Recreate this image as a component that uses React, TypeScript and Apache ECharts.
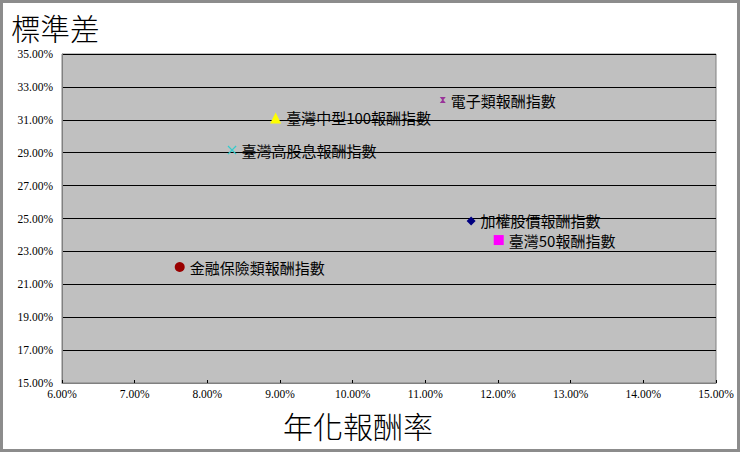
import React, { useEffect, useRef } from 'react';
import * as echarts from 'echarts';

// 指數名稱 / 年化報酬率(%) / 標準差(%)
const names = [
  '加權股價報酬指數',
  '臺灣50報酬指數',
  '臺灣中型100報酬指數',
  '臺灣高股息報酬指數',
  '電子類報酬指數',
  '金融保險類報酬指數',
];
const annualReturn = [11.63, 12.01, 8.94, 8.34, 11.24, 7.62];
const stdDev = [24.85, 23.69, 31.11, 29.16, 32.2, 22.05];

const colors = ['#000080', '#ff00ff', '#ffff00', '#33cccc', '#993399', '#990000'];
const symbols = [
  'diamond',
  'rect',
  'triangle',
  'path://M0,1L1,0L5,4L9,0L10,1L6,5L10,9L9,10L5,6L1,10L0,9L4,5Z',
  'path://M0,0L10,0L6,5L10,10L0,10L4,5Z',
  'circle',
];
const symbolSizes = [9, 10, 11, 9, 6, 10];

const App = () => {
  const chartRef = useRef(null);

  useEffect(() => {
    document.body.style.margin = '0';
    const chart = echarts.init(chartRef.current, null, { renderer: 'svg' });

    const series = names.map((name, i) => ({
      name,
      type: 'scatter',
      data: [[annualReturn[i], stdDev[i]]],
      symbol: symbols[i],
      symbolSize: symbolSizes[i],
      itemStyle: { color: colors[i], opacity: 1 },
      label: {
        show: true,
        position: 'right',
        distance: 5,
        formatter: name,
        color: '#000',
        fontSize: 15,
        fontFamily: 'Noto Sans CJK TC',
      },
    }));

    chart.setOption({
      animation: false,
      backgroundColor: '#fff',
      grid: {
        left: 62,
        right: 24,
        top: 54,
        bottom: 69,
        show: true,
        backgroundColor: '#c0c0c0',
        borderColor: '#808080',
        borderWidth: 1,
      },
      xAxis: {
        type: 'value',
        min: 6,
        max: 15,
        interval: 1,
        axisLine: { show: true, lineStyle: { color: '#808080' } },
        axisTick: { show: true, inside: true, length: 3, lineStyle: { color: '#000' } },
        splitLine: { show: false },
        axisLabel: {
          color: '#000',
          fontSize: 11.5,
          fontFamily: 'Liberation Serif',
          margin: 5,
          formatter: (v: number) => v.toFixed(2) + '%',
        },
      },
      yAxis: {
        type: 'value',
        min: 15,
        max: 35,
        interval: 2,
        axisLine: { show: true, lineStyle: { color: '#808080' } },
        axisTick: { show: false },
        splitLine: { show: true, lineStyle: { color: '#000', width: 1 } },
        axisLabel: {
          color: '#000',
          fontSize: 11.5,
          fontFamily: 'Liberation Serif',
          margin: 9,
          formatter: (v: number) => v.toFixed(2) + '%',
        },
      },
      graphic: [
        {
          type: 'rect',
          shape: { x: 1.5, y: 1.5, width: 737, height: 449 },
          style: { fill: 'none', stroke: '#8c8c8c', lineWidth: 3 },
          silent: true,
        },
        {
          type: 'text',
          left: 11,
          top: 12,
          style: {
            text: '標準差',
            fontSize: 29.5,
            fontFamily: 'Noto Sans CJK TC',
            fontWeight: 300,
            fill: '#000',
          },
        },
        {
          type: 'text',
          left: 283,
          top: 410,
          style: {
            text: '年化報酬率',
            fontSize: 30,
            fontFamily: 'Noto Sans CJK TC',
            fontWeight: 300,
            fill: '#000',
          },
        },
      ],
      series,
    });

    return () => {
      chart.dispose();
    };
  }, []);

  return <div ref={chartRef} style={{ width: '740px', height: '452px' }}></div>;
};

export default App;
